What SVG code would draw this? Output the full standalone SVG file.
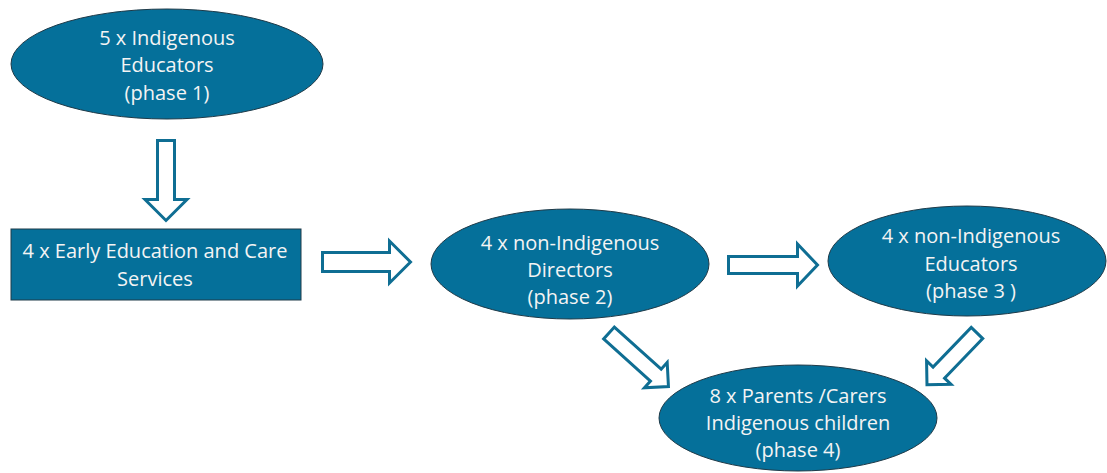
<svg xmlns="http://www.w3.org/2000/svg" width="1107" height="473" viewBox="0 0 1107 473">
<style>
.node{fill:#05709a;stroke:#1f3a48;stroke-width:1}
.lbl{font-family:"Open Sans","Liberation Sans",sans-serif;font-size:20px;fill:#f4f4f4;text-anchor:middle}
.arr{fill:#ffffff;stroke:#0f6e93;stroke-width:3;stroke-linejoin:miter}
</style>
<rect x="0" y="0" width="1107" height="473" fill="#ffffff"/>
<g id="connectors">
<path class="arr" transform="translate(166,140.5) rotate(90)" d="M0,-8.5 L59,-8.5 L59,-21 L80,0 L59,21 L59,8.5 L0,8.5 Z"/>
<path class="arr" transform="translate(322.5,262)" d="M0,-9.5 L67,-9.5 L67,-21 L88,0 L67,21 L67,9.5 L0,9.5 Z"/>
<path class="arr" transform="translate(728.5,265)" d="M0,-8.5 L69,-8.5 L69,-21 L89,0 L69,21 L69,8.5 L0,8.5 Z"/>
<path class="arr" transform="translate(609,333) rotate(42)" d="M0,-8 L63,-8 L63,-17 L80,0 L63,17 L63,8 L0,8 Z"/>
<path class="arr" transform="translate(977,333) rotate(134)" d="M0,-8 L55,-8 L55,-17 L72,0 L55,17 L55,8 L0,8 Z"/>
</g>
<g id="n1">
<ellipse class="node" cx="167" cy="64" rx="156" ry="55"/>
<text class="lbl" x="167" y="45">5 x Indigenous</text>
<text class="lbl" x="167" y="72">Educators</text>
<text class="lbl" x="167" y="100">(phase 1)</text>
</g>
<g id="n2">
<rect class="node" x="11" y="229" width="290" height="71"/>
<text class="lbl" x="155" y="258">4 x Early Education and Care</text>
<text class="lbl" x="155" y="286">Services</text>
</g>
<g id="n3">
<ellipse class="node" cx="570" cy="264" rx="139" ry="55"/>
<text class="lbl" x="570" y="250">4 x non-Indigenous</text>
<text class="lbl" x="570" y="277">Directors</text>
<text class="lbl" x="570" y="304">(phase 2)</text>
</g>
<g id="n4">
<ellipse class="node" cx="967" cy="261" rx="139" ry="55"/>
<text class="lbl" x="971" y="243">4 x non-Indigenous</text>
<text class="lbl" x="971" y="271">Educators</text>
<text class="lbl" x="971" y="298">(phase 3 )</text>
</g>
<g id="n5">
<ellipse class="node" cx="798" cy="418" rx="139" ry="53"/>
<text class="lbl" x="798" y="403">8 x Parents /Carers</text>
<text class="lbl" x="798" y="430">Indigenous children</text>
<text class="lbl" x="798" y="457">(phase 4)</text>
</g>
</svg>
